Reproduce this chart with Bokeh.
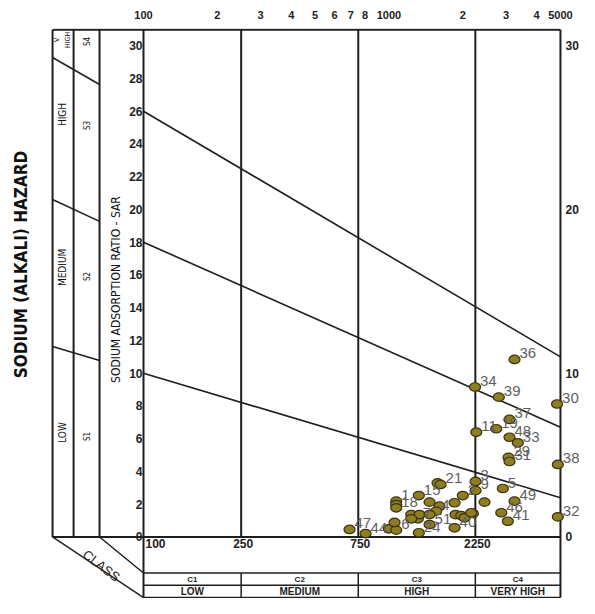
import math
from bokeh.plotting import figure
from bokeh.models import Range1d, FixedTicker, ColumnDataSource
from bokeh.core.properties import value
from bokeh.embed import file_html
from bokeh.resources import INLINE

# ---------------- data ----------------
ec_values = [3249, 2243, 2804, 4842, 3100, 2737, 2269, 3100, 3352, 3071,
             3100, 4878, 2254, 2254, 2912, 3249, 2453, 4878, 2869, 3051,
             2198, 691, 803, 999, 1071, 1054, 1071, 1071, 1071, 1324,
             1233, 1312, 1333, 1233, 1464, 1608, 1559, 1464, 1464, 1324,
             1578, 1623, 1851, 1868, 2000, 1971, 2033, 2165, 1851]
sar_values = [10.84, 9.16, 8.54, 8.12, 7.18, 6.61, 6.40, 6.09, 5.75, 4.86,
              4.61, 4.43, 3.39, 2.84, 2.96, 2.19, 2.13, 1.23, 1.48, 0.96,
              1.44, 0.46, 0.21, 0.50, 0.42, 0.89, 2.19, 1.98, 1.78, 2.53,
              1.37, 1.11, 1.37, 1.11, 2.13, 1.88, 1.58, 1.37, 0.76, 0.26,
              3.30, 3.21, 2.09, 1.37, 2.53, 1.31, 1.17, 1.48, 0.56]
sample_labels = ["36", "34", "39", "30", "37", "19", "11", "48", "33", "29",
                 "31", "38", "3", "9", "5", "49", "", "32", "46", "41",
                 "", "47", "44", "", "6", "", "1", "", "18", "15",
                 "", "7", "", "", "", "", "4", "", "51", "24",
                 "", "21", "", "", "2", "", "", "", "40"]

ec_top_ticks = [100, 200, 300, 400, 500, 600, 700, 800, 1000, 2000, 3000, 4000, 5000]
ec_top_labels = ["100", "2", "3", "4", "5", "6", "7", "8", "1000", "2", "3", "4", "5000"]
sar_ticks = list(range(0, 31, 2))
right_ticks = [0, 10, 20, 30]
class_bounds = [100, 250, 750, 2250, 5000]
class_codes = ["C1", "C2", "C3", "C4"]
class_names = ["LOW", "MEDIUM", "HIGH", "VERY HIGH"]
hazard_sar_at_100 = [10, 18, 26]
hazard_sar_at_5000 = [2.4, 6.7, 11.0]
hazard_names = ["LOW", "MEDIUM", "HIGH"]
hazard_codes = ["S1", "S2", "S3", "S4"]

# ---------------- layout constants ----------------
FONT = value("Liberation Sans")
NARROW = value("'Liberation Sans Narrow', 'DejaVu Sans Condensed', 'Liberation Sans', sans-serif")
LINE = "#1e1e1e"
X_LEFT, X_RIGHT = 26.14, 5978
Y_BOT, Y_TOP = -3.756, 31.05
TOP = 30.98
COL_A, COL_B, COL_C = 42.6, 51.9, 66.2       # left panel verticals
BOX_TOP, BOX_MID, BOX_BOT = -2.2, -2.95, -3.70

p = figure(width=579, height=598, x_axis_type="log", x_axis_location="above",
           y_axis_location=None, output_backend="svg", toolbar_location=None,
           x_range=Range1d(X_LEFT, X_RIGHT), y_range=Range1d(Y_BOT, Y_TOP),
           min_border_left=0, min_border_right=0, min_border_bottom=0, min_border_top=28)
p.outline_line_color = None
p.grid.visible = False
p.background_fill_color = "white"
p.border_fill_color = "white"

ax = p.xaxis[0]
ax.ticker = FixedTicker(ticks=ec_top_ticks)
ax.major_label_overrides = {t: l for t, l in zip(ec_top_ticks, ec_top_labels)}
ax.axis_line_color = None
ax.major_tick_line_color = None
ax.minor_tick_line_color = None
ax.major_label_standoff = 4
ax.major_label_text_font = "Liberation Sans"
ax.major_label_text_font_style = "bold"
ax.major_label_text_font_size = "11px"
ax.major_label_text_color = "#222222"

# ---------------- frame lines ----------------
lo, hi = class_bounds[0], class_bounds[-1]
p.segment(x0=[COL_A, COL_A], y0=[TOP, 0], x1=[hi, hi], y1=[TOP, 0], line_color=LINE, line_width=2)
p.segment(x0=[lo, hi], y0=[BOX_BOT, BOX_BOT], x1=[lo, hi], y1=[TOP, TOP], line_color=LINE, line_width=2)
inner = class_bounds[1:-1]
p.segment(x0=inner, y0=[0] * len(inner), x1=inner, y1=[TOP] * len(inner), line_color=LINE, line_width=2)
p.segment(x0=[lo] * 3, y0=[BOX_TOP, BOX_MID, BOX_BOT], x1=[hi] * 3, y1=[BOX_TOP, BOX_MID, BOX_BOT],
          line_color=LINE, line_width=1.5)
p.segment(x0=inner, y0=[BOX_TOP] * len(inner), x1=inner, y1=[BOX_BOT] * len(inner), line_color=LINE, line_width=1.5)
p.segment(x0=[COL_A, COL_B, COL_C], y0=[0] * 3, x1=[COL_A, COL_B, COL_C], y1=[TOP] * 3,
          line_color=LINE, line_width=2)
p.segment(x0=[COL_A] * 3, y0=[11.63, 20.61, 29.28], x1=[COL_C] * 3, y1=[10.78, 19.27, 27.63],
          line_color=LINE, line_width=1.5)
p.segment(x0=[COL_A, COL_C], y0=[0, 0], x1=[lo, lo], y1=[BOX_BOT, BOX_TOP], line_color=LINE, line_width=1.5)
p.segment(x0=[lo] * 3, y0=hazard_sar_at_100, x1=[hi] * 3, y1=hazard_sar_at_5000,
          line_color=LINE, line_width=1.6)

# ---------------- axis-like texts ----------------
p.text(x=[lo] * len(sar_ticks), y=sar_ticks, text=[str(t) for t in sar_ticks],
       text_align="right", text_baseline="middle", x_offset=-1,
       text_font=FONT, text_font_style="bold", text_font_size="12px", text_color="#222222")
p.text(x=[hi] * len(right_ticks), y=right_ticks, text=[str(t) for t in right_ticks],
       text_align="left", text_baseline="middle", x_offset=5,
       text_font=FONT, text_font_style="bold", text_font_size="12px", text_color="#222222")
bsrc = ColumnDataSource(dict(x=class_bounds[:-1], y=[0] * 4, t=[str(v) for v in class_bounds[:-1]],
                             a=["left" if v == lo else "center" for v in class_bounds[:-1]]))
p.text(x="x", y="y", text="t", text_align="a", source=bsrc, text_baseline="top", x_offset=2, y_offset=2,
       text_font=FONT, text_font_style="bold", text_font_size="12px", text_color="#222222")

mids = [math.sqrt(a * b) for a, b in zip(class_bounds[:-1], class_bounds[1:])]
p.text(x=mids, y=[(BOX_TOP + BOX_MID) / 2] * 4, text=class_codes, text_align="center",
       text_baseline="middle", text_font=FONT, text_font_style="bold", text_font_size="8px",
       text_color="#222222")
p.text(x=mids, y=[(BOX_MID + BOX_BOT) / 2] * 4, text=class_names, text_align="center",
       text_baseline="middle", text_font=FONT, text_font_style="bold", text_font_size="10px",
       text_color="#222222")

p.text(x=[67.4], y=[-1.75], text=["CLASS"], angle=-0.66, text_align="center", text_baseline="middle",
       text_font=FONT, text_font_size="13px", text_color="#222222")

p.text(x=[31.8], y=[16.64], text=["SODIUM (ALKALI) HAZARD"], angle=math.pi / 2, text_align="center",
       text_baseline="middle", text_font=NARROW, text_font_style="bold", text_font_size="17px",
       text_color="#111111")
p.text(x=[76.9], y=[15.11], text=["SODIUM ADSORPTION RATIO - SAR"], angle=math.pi / 2,
       text_align="center", text_baseline="middle", text_font=NARROW, text_font_size="12px",
       text_color="#111111")

p.text(x=[46.8] * 3, y=[6.38, 16.46, 25.8], text=hazard_names, angle=math.pi / 2, text_align="center",
       text_baseline="middle", text_font=NARROW, text_font_size="10px", text_color="#111111")
p.text(x=[59.1] * 4, y=[6.14, 15.91, 25.13, 30.26], text=hazard_codes, angle=math.pi / 2,
       text_align="center", text_baseline="middle", text_font=NARROW, text_font_size="8px",
       text_color="#111111")
p.text(x=[44.6, 49.3], y=[30.35, 30.35], text=["V", "HIGH"], angle=math.pi / 2, text_align="center",
       text_baseline="middle", text_font=NARROW, text_font_size="7px", text_color="#111111")

# ---------------- samples ----------------
src = ColumnDataSource(dict(ec=ec_values, sar=sar_values, lab=sample_labels))
p.ellipse(x="ec", y="sar", width=11, height=8.5, width_units="screen", height_units="screen",
          source=src, fill_color="#8f7d22", line_color="#3b3310", line_width=1.2)
p.text(x="ec", y="sar", text="lab", source=src, text_align="left", text_baseline="alphabetic",
       x_offset=5, y_offset=-6, text_font=FONT, text_font_size="15px", text_color="#5f5f5f")

open("out.html", "w").write(file_html(p, INLINE))
